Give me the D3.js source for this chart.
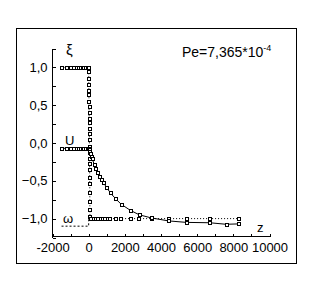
<!DOCTYPE html>
<html>
<head>
<meta charset="utf-8">
<script src="https://cdn.jsdelivr.net/npm/d3@7"></script>
<style>
  body { margin: 0; background: #fff; }
  svg { display: block; }
  text { font-family: "Liberation Sans", Arial, sans-serif; font-size: 13px; fill: #000; }
</style>
</head>
<body>
<div id="chart"></div>
<script>
// z positions and values
var xiZ = [-1500, -1200, -1000, -830, -660, -550, -440, -330, -280, -170, -60, 0,
           3, 6, 9, 12, 15, 18, 21, 24, 27, 30, 33, 36, 39, 42, 45, 48, 51, 54, 57, 60, 63, 66, 69, 72,
           100, 270, 380, 490, 650, 760, 870, 1040, 1150, 1480, 1760, 2310, 2750, 3450, 4400, 5400, 6700, 8300];
var xiVal = [1, 1, 1, 1, 1, 1, 1, 1, 1, 1, 1, 1,
             0.94, 0.85, 0.78, 0.70, 0.64, 0.55, 0.48, 0.41, 0.33, 0.27, 0.19, 0.12, 0.04, -0.04, -0.12, -0.20,
             -0.27, -0.35, -0.46, -0.53, -0.66, -0.78, -0.88, -0.97,
             -1, -1, -1, -1, -1, -1, -1, -1, -1, -1, -1, -1, -1, -1, -1, -1, -1, -1];

var uZ = [-1500, -1200, -1000, -830, -660, -550, -440, -330, -280, -170, -60, 0,
          30, 60, 100, 150, 200, 300, 400, 500, 600, 700, 800, 1000, 1200, 1500, 1800, 2300, 2800, 3450,
          4400, 5400, 6700, 7600, 8300];
var uVal = [-0.07, -0.07, -0.07, -0.07, -0.07, -0.07, -0.07, -0.07, -0.07, -0.07, -0.07, -0.07,
            -0.09, -0.11, -0.14, -0.18, -0.21, -0.28, -0.34, -0.39, -0.44, -0.48, -0.52, -0.59, -0.66,
            -0.74, -0.81, -0.89, -0.95, -0.99, -1.03, -1.05, -1.055, -1.075, -1.07];

var omegaZ = [-1500, 0, 0];
var omegaVal = [-1.1, -1.1, -1.0];

var yTicks = [-1.25, -1, -0.75, -0.5, -0.25, 0, 0.25, 0.5, 0.75, 1, 1.25];
var xTicks = [-2000, -1000, 0, 1000, 2000, 3000, 4000, 5000, 6000, 7000, 8000, 9000, 10000];

var W = 313, H = 284;

var svg = d3.select('#chart').append('svg')
  .attr('width', W)
  .attr('height', H);

// outer frame
svg.append('rect')
  .attr('x', 16.5).attr('y', 28.5)
  .attr('width', 280).attr('height', 235)
  .attr('fill', 'none')
  .attr('stroke', '#000');

var x = d3.scaleLinear().domain([-2000, 10000]).range([52, 269]);
var y = d3.scaleLinear().domain([-1.25, 1.25]).range([237, 48]);

function fmtComma(d) { return d3.format('.1f')(d).replace('.', ','); }

var yAxis = d3.axisLeft(y)
  .tickValues(yTicks)
  .tickSize(-3)
  .tickSizeOuter(0)
  .tickPadding(5)
  .tickFormat(function(d) { return (Math.abs(d * 2 - Math.round(d * 2)) < 1e-9 && Math.abs(d) <= 1) ? fmtComma(d) : ''; });

var xAxis = d3.axisBottom(x)
  .tickValues(xTicks)
  .tickSize(-3)
  .tickSizeOuter(0)
  .tickPadding(6)
  .tickFormat(function(d) { return d % 2000 === 0 ? d : ''; });

var gy = svg.append('g').attr('transform', 'translate(52.5,0.5)').call(yAxis);
var gx = svg.append('g').attr('transform', 'translate(0.5,236.5)').call(xAxis);
[gy, gx].forEach(function(g) {
  g.selectAll('path, line').attr('stroke', '#000').attr('shape-rendering', 'crispEdges');
  g.selectAll('text').attr('font-family', null).attr('font-size', null).attr('fill', '#000');
});
gy.select('.domain').attr('d', 'M0,' + y(1.25) + 'V' + y(-1.25));
gx.select('.domain').attr('d', 'M' + x(-2000) + ',0H' + x(10000));

var line = d3.line()
  .x(function(d) { return x(d[0]); })
  .y(function(d) { return y(d[1]); });

function pairs(zs, vs) { return zs.map(function(z, i) { return [z, vs[i]]; }); }

var plot = svg.append('g').attr('transform', 'translate(0.5,0.5)');

plot.append('path')
  .datum(pairs(omegaZ, omegaVal))
  .attr('d', line)
  .attr('fill', 'none')
  .attr('stroke', '#000')
  .attr('stroke-dasharray', '2,2');

var series = [
  { data: pairs(xiZ, xiVal), dash: '1,2' },
  { data: pairs(uZ, uVal), dash: null }
];

series.forEach(function(s) {
  plot.append('path')
    .datum(s.data)
    .attr('d', line)
    .attr('fill', 'none')
    .attr('stroke', '#000')
    .attr('stroke-dasharray', s.dash);
  plot.selectAll(null)
    .data(s.data)
    .enter()
    .append('rect')
    .attr('x', function(d) { return Math.round(x(d[0])) - 1.5; })
    .attr('y', function(d) { return Math.round(y(d[1])) - 1.5; })
    .attr('width', 3)
    .attr('height', 3)
    .attr('fill', '#fff')
    .attr('stroke', '#000')
    .attr('shape-rendering', 'crispEdges');
});

// series labels
svg.append('text').attr('x', 66).attr('y', 55).attr('fill', '#000').style('font-size', '15px').text('ξ');
svg.append('text').attr('x', 65).attr('y', 145).attr('fill', '#000').text('U');
svg.append('text').attr('x', 63).attr('y', 223).attr('fill', '#000').text('ω');
svg.append('text').attr('x', 257).attr('y', 232).attr('fill', '#000').text('z');

var pe = svg.append('text').attr('x', 182).attr('y', 57).attr('fill', '#000').style('font-size', '14px');
pe.append('tspan').text('Pe=7,365*10');
pe.append('tspan').attr('dy', -6).style('font-size', '9px').text('-4');
</script>
</body>
</html>
